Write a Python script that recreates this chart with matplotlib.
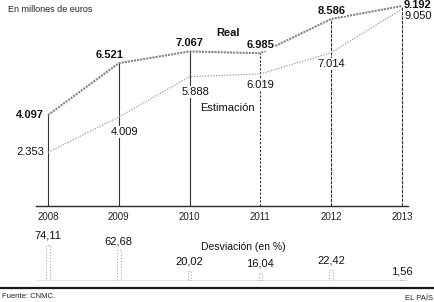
import matplotlib
matplotlib.use("Agg")
import matplotlib.pyplot as plt
from matplotlib.lines import Line2D

plt.rcParams['font.family'] = ['Liberation Sans Narrow', 'Liberation Sans', 'DejaVu Sans']

years = [2008, 2009, 2010, 2011, 2012, 2013]
real = [4097, 6521, 7067, 6985, 8586, 9192]
estimacion = [2353, 4009, 5888, 6019, 7014, 9050]
desviacion = [74.11, 62.68, 20.02, 16.04, 22.42, 1.56]

# label offsets in points (dx, dy) and alignment
real_offsets = [(-3, 0, 'right'), (-7, 6, 'center'), (0, 6, 'center'),
                (0, 6, 'center'), (0, 6, 'center'), (1, 0.5, 'left')]
est_offsets = [(-3, 0, 'right'), (4, -11, 'center'), (4, -11, 'center'),
               (0, -8, 'center'), (0, -8, 'center'), (2, -5, 'left')]
vline_styles = ['-', '-', '-', (0, (2, 1.5)), (0, (3, 1)), (0, (3, 1))]


def fmt_miles(v):
    return f"{v:,}".replace(',', '.')


def fmt_pct(v):
    return f"{v:.2f}".replace('.', ',')


W, H = 435, 302
fig = plt.figure(figsize=(W / 100, H / 100), dpi=100)

# main panel: pixel box left=36, right=408, baseline at y=206 from top
ax = fig.add_axes([36 / W, 96 / H, 372 / W, 206 / H])
ax.set_xlim(2007.83, 2013.085)
ax.set_ylim(-154, 9472)
for side in ['top', 'right', 'left']:
    ax.spines[side].set_visible(False)
ax.spines['bottom'].set_color('#2a2a2a')
ax.spines['bottom'].set_linewidth(1.0)
ax.set_yticks([])
ax.set_xticks(years)
ax.set_xticklabels([str(y) for y in years], fontsize=7, color='#222')
ax.tick_params(axis='x', length=0, pad=4)

for x, r, ls in zip(years, real, vline_styles):
    ax.plot([x, x], [-154, r], color='#333', lw=0.8, linestyle=ls, zorder=1)

ax.plot(years, real, color='#858585', lw=1.5, linestyle=(0, (1, 0.5)), zorder=2)
ax.plot(years, estimacion, color='#9c9c9c', lw=0.9, linestyle=(0, (1, 1.2)), zorder=2)

box = dict(facecolor='white', edgecolor='none', pad=0.6)
for x, r, (dx, dy, ha) in zip(years, real, real_offsets):
    ax.annotate(fmt_miles(r), (x, r), xytext=(dx, dy), textcoords='offset points',
                ha=ha, va='center', fontsize=8, fontweight='bold', color='#111',
                bbox=box, zorder=3)
for x, e, (dx, dy, ha) in zip(years, estimacion, est_offsets):
    ax.annotate(fmt_miles(e), (x, e), xytext=(dx, dy), textcoords='offset points',
                ha=ha, va='center', fontsize=8, color='#111', bbox=box, zorder=3)

ax.text(2010.54, 7930, 'Real', ha='center', va='center', fontsize=8,
        fontweight='bold', color='#111')
ax.text(2010.54, 4426, 'Estimación', ha='center', va='center', fontsize=8,
        color='#111', bbox=box, zorder=3)

# deviation panel: baseline at y=281 from top
ax2 = fig.add_axes([36 / W, 21 / H, 372 / W, 60 / H])
ax2.set_xlim(2007.83, 2013.085)
ax2.set_ylim(0, 122)
ax2.axis('off')
ax2.bar(years, desviacion, width=0.05, fill=False, edgecolor='#aaa',
        linestyle=':', linewidth=0.8)
ax2.axhline(0, color='#333', lw=0.9)
for x, d in zip(years, desviacion):
    ax2.annotate(fmt_pct(d), (x, d), xytext=(0, 3), textcoords='offset points',
                 ha='center', va='bottom', fontsize=8, color='#111')

fig.text(243 / W, 1 - 247 / H, 'Desviación (en %)', ha='center', va='center',
         fontsize=7.5, color='#111')
fig.text(8 / W, 1 - 9 / H, 'En millones de euros', ha='left', va='center',
         fontsize=6.5, color='#222')
fig.text(2 / W, 1 - 297 / H, 'Fuente: CNMC.', ha='left', va='center',
         fontsize=5.5, color='#222')
fig.text(433 / W, 1 - 298 / H, 'EL PAÍS', ha='right', va='center',
         fontsize=5.5, color='#222')
fig.add_artist(Line2D([0, 1], [14 / H, 14 / H], transform=fig.transFigure,
                      color='#1a1a1a', lw=1.6))

fig.savefig('out.png', dpi=100, facecolor='white')
